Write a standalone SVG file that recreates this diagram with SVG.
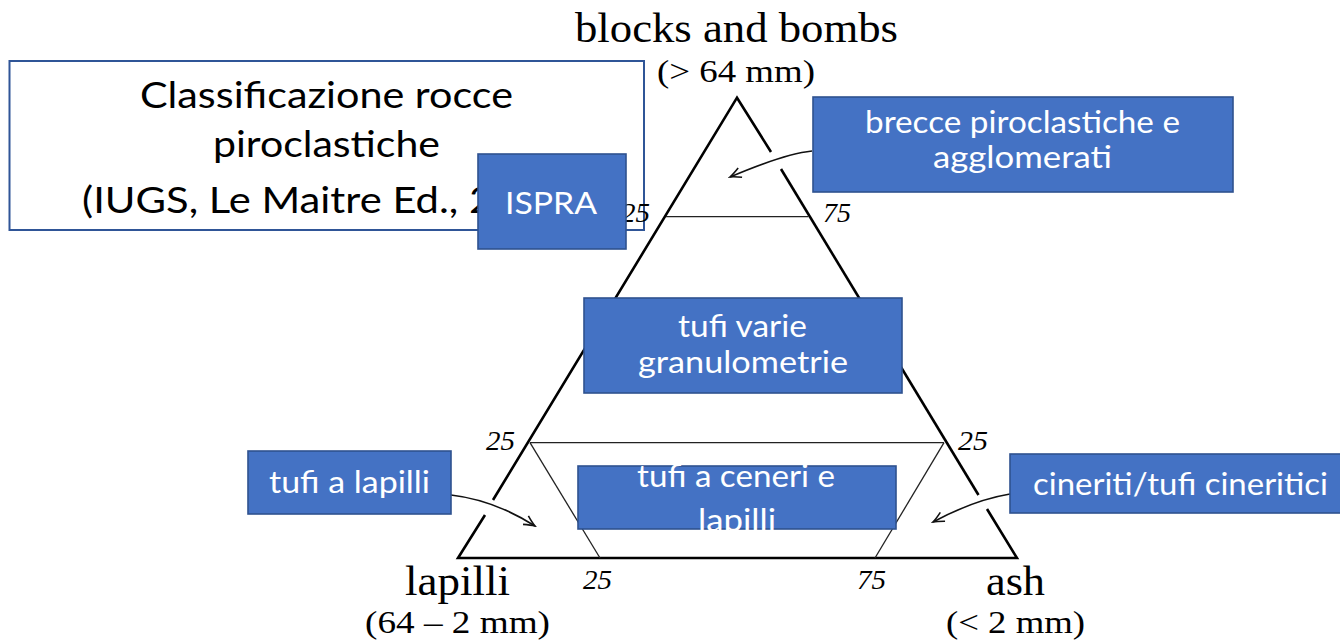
<svg xmlns="http://www.w3.org/2000/svg" width="1340" height="641" viewBox="0 0 1340 641">
<defs>
<style>
.tri{fill:none;stroke:#000;stroke-width:2.6;stroke-linecap:butt;stroke-linejoin:miter}
.thin{fill:none;stroke:#222;stroke-width:1.3}
.conn{fill:none;stroke:#111;stroke-width:1.6}
.serif{font-family:"Liberation Serif","Times New Roman",serif;fill:#000}
.num{font-family:"Liberation Serif","Times New Roman",serif;font-style:italic;font-size:27px;fill:#000}
.box{fill:#4472C4;stroke:#2F528F;stroke-width:1.6}
.lbl{font-family:Lato,"Open Sans","Liberation Sans",sans-serif;font-size:30px;fill:#fff}
.title{font-family:Lato,"Open Sans","Liberation Sans",sans-serif;font-size:36px;fill:#000}
</style>
<marker id="ah" viewBox="-13 -7 15 14" refX="0" refY="0" markerWidth="15" markerHeight="14" markerUnits="userSpaceOnUse" orient="auto">
<path d="M-11,-5 Q-4,-1.2 0,0 Q-4,1.2 -11,5" fill="none" stroke="#111" stroke-width="1.6"/>
</marker>
</defs>
<rect width="1340" height="641" fill="#fff"/>

<g id="triangle">
<path class="tri" d="M493,500 L737,97.7 L771,152"/>
<path class="tri" d="M781,169 L978.5,495"/>
<path class="tri" d="M987,509 L1017,558 L458,558 L485,515"/>
<line class="thin" x1="666" y1="216.7" x2="808.5" y2="216.7"/>
<line class="thin" x1="530" y1="442.7" x2="944" y2="442.7"/>
<line class="thin" x1="530" y1="442.7" x2="600" y2="558"/>
<line class="thin" x1="944" y1="442.7" x2="875" y2="558"/>
</g>

<g id="vertex-labels">
<text class="serif" x="575" y="42" font-size="43" textLength="323" lengthAdjust="spacingAndGlyphs">blocks and bombs</text>
<text class="serif" x="657" y="82" font-size="31" textLength="158" lengthAdjust="spacingAndGlyphs">(&gt; 64 mm)</text>
<text class="serif" x="405" y="595" font-size="42" textLength="105" lengthAdjust="spacingAndGlyphs">lapilli</text>
<text class="serif" x="365" y="633" font-size="31" textLength="185" lengthAdjust="spacingAndGlyphs">(64 – 2 mm)</text>
<text class="serif" x="986" y="595" font-size="42" textLength="59" lengthAdjust="spacingAndGlyphs">ash</text>
<text class="serif" x="946" y="633" font-size="31" textLength="139" lengthAdjust="spacingAndGlyphs">(&lt; 2 mm)</text>
</g>

<g id="scale-numbers">
<text class="num" x="823" y="222" textLength="28" lengthAdjust="spacingAndGlyphs">75</text>
<text class="num" x="486" y="450" textLength="29" lengthAdjust="spacingAndGlyphs">25</text>
<text class="num" x="958" y="450" textLength="30" lengthAdjust="spacingAndGlyphs">25</text>
<text class="num" x="583" y="589" textLength="29" lengthAdjust="spacingAndGlyphs">25</text>
<text class="num" x="857" y="589" textLength="29" lengthAdjust="spacingAndGlyphs">75</text>
</g>

<g id="connectors">
<path class="conn" d="M812,151 Q784,154 730,177" marker-end="url(#ah)"/>
<path class="conn" d="M451,495 Q494,500 535,526" marker-end="url(#ah)"/>
<path class="conn" d="M1010,494 Q974,500 933,522" marker-end="url(#ah)"/>
</g>

<g id="title">
<rect x="9.5" y="61" width="634.5" height="169" fill="#fff" stroke="#2F5597" stroke-width="2"/>
<text class="title" x="140" y="108" textLength="373" lengthAdjust="spacingAndGlyphs">Classificazione rocce</text>
<text class="title" x="213" y="157" textLength="227" lengthAdjust="spacingAndGlyphs">piroclastiche</text>
<text class="title" x="82" y="213" textLength="495" lengthAdjust="spacingAndGlyphs">(IUGS, Le Maitre Ed., 2002)</text>
</g>
<text class="num" x="621" y="222" textLength="29" lengthAdjust="spacingAndGlyphs">25</text>

<g id="ispra">
<rect class="box" x="478" y="154" width="148" height="95"/>
<text class="lbl" x="505" y="214" textLength="92" lengthAdjust="spacingAndGlyphs">ISPRA</text>
</g>

<g id="brecce">
<rect class="box" x="813" y="97" width="420" height="95"/>
<text class="lbl" x="865" y="133" textLength="315" lengthAdjust="spacingAndGlyphs">brecce piroclastiche e</text>
<text class="lbl" x="933" y="168" textLength="179" lengthAdjust="spacingAndGlyphs">agglomerati</text>
</g>

<g id="tufi-varie">
<rect class="box" x="584" y="298" width="318" height="95"/>
<text class="lbl" x="678" y="337" textLength="129" lengthAdjust="spacingAndGlyphs">tufi varie</text>
<text class="lbl" x="638" y="373" textLength="210" lengthAdjust="spacingAndGlyphs">granulometrie</text>
</g>

<g id="tufi-lapilli">
<rect class="box" x="248" y="451" width="203" height="63"/>
<text class="lbl" x="269" y="493" textLength="161" lengthAdjust="spacingAndGlyphs">tufi a lapilli</text>
</g>

<g id="cineriti">
<rect class="box" x="1010" y="454" width="332" height="59"/>
<text class="lbl" x="1033" y="495" textLength="295" lengthAdjust="spacingAndGlyphs">cineriti/tufi cineritici</text>
</g>

<g id="tufi-ceneri">
<rect class="box" x="578" y="466" width="318" height="63"/>
<text class="lbl" x="637" y="487" textLength="198" lengthAdjust="spacingAndGlyphs">tufi a ceneri e</text>
<text class="lbl" x="698" y="531" textLength="78" lengthAdjust="spacingAndGlyphs">lapilli</text>
</g>
</svg>
